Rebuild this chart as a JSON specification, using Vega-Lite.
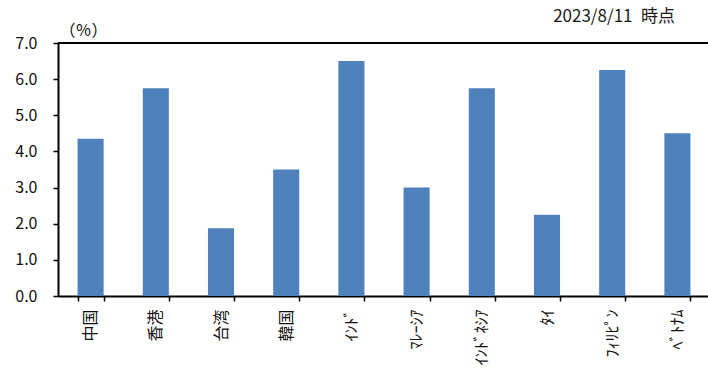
{
  "$schema": "https://vega.github.io/schema/vega-lite/v6.json",
  "autosize": "none",
  "padding": {"left": 58, "top": 43, "right": 0, "bottom": 74},
  "width": 652,
  "height": 253,
  "background": "white",
  "title": {
    "text": "2023/8/11\u2002時点",
    "anchor": "end",
    "frame": "group",
    "dx": -35,
    "dy": 17,
    "offset": 0,
    "baseline": "alphabetic",
    "font": "Noto Sans CJK JP",
    "fontSize": 17,
    "fontWeight": "normal",
    "color": "#1a1a1a"
  },
  "config": {
    "view": {"stroke": null},
    "axis": {
      "labelFont": "Noto Sans CJK JP",
      "titleFont": "Noto Sans CJK JP",
      "labelColor": "#111111",
      "domainColor": "#000000",
      "tickColor": "#000000",
      "domainWidth": 2,
      "tickWidth": 1.5,
      "tickSize": 5,
      "grid": false,
      "labelOverlap": false
    }
  },
  "data": {
    "values": [
      {"country": "中国", "rate": 4.35},
      {"country": "香港", "rate": 5.75},
      {"country": "台湾", "rate": 1.875},
      {"country": "韓国", "rate": 3.5},
      {"country": "ｲﾝﾄﾞ", "rate": 6.5},
      {"country": "ﾏﾚｰｼｱ", "rate": 3.0},
      {"country": "ｲﾝﾄﾞﾈｼｱ", "rate": 5.75},
      {"country": "ﾀｲ", "rate": 2.25},
      {"country": "ﾌｨﾘﾋﾟﾝ", "rate": 6.25},
      {"country": "ﾍﾞﾄﾅﾑ", "rate": 4.5}
    ]
  },
  "layer": [
    {
      "mark": {"type": "bar", "color": "#4F81BD"},
      "encoding": {
        "x": {
          "field": "country",
          "type": "nominal",
          "sort": null,
          "scale": {"paddingInner": 0.6, "paddingOuter": 0.3},
          "axis": {
            "title": null,
            "labelAngle": -90,
            "labelFontSize": 16,
            "labelPadding": 8,
            "tickBand": "extent"
          }
        },
        "y": {
          "field": "rate",
          "type": "quantitative",
          "scale": {"domain": [0, 7], "nice": false},
          "axis": {
            "values": [0, 1, 2, 3, 4, 5, 6, 7],
            "format": ".1f",
            "labelFontSize": 16,
            "labelPadding": 16,
            "title": "（％）",
            "titleAngle": 0,
            "titleX": 25,
            "titleY": -13,
            "titleAlign": "center",
            "titleBaseline": "middle",
            "titleFontSize": 16,
            "titleFontWeight": "normal",
            "titleColor": "#111111"
          }
        }
      }
    },
    {
      "mark": {"type": "rule", "color": "#000000", "strokeWidth": 2},
      "encoding": {
        "y": {
          "datum": 7,
          "type": "quantitative",
          "axis": {
            "values": [0, 1, 2, 3, 4, 5, 6, 7],
            "format": ".1f",
            "labelFontSize": 16,
            "labelPadding": 16,
            "title": "（％）",
            "titleAngle": 0,
            "titleX": 25,
            "titleY": -13,
            "titleAlign": "center",
            "titleBaseline": "middle",
            "titleFontSize": 16,
            "titleFontWeight": "normal",
            "titleColor": "#111111"
          }
        }
      }
    }
  ]
}
